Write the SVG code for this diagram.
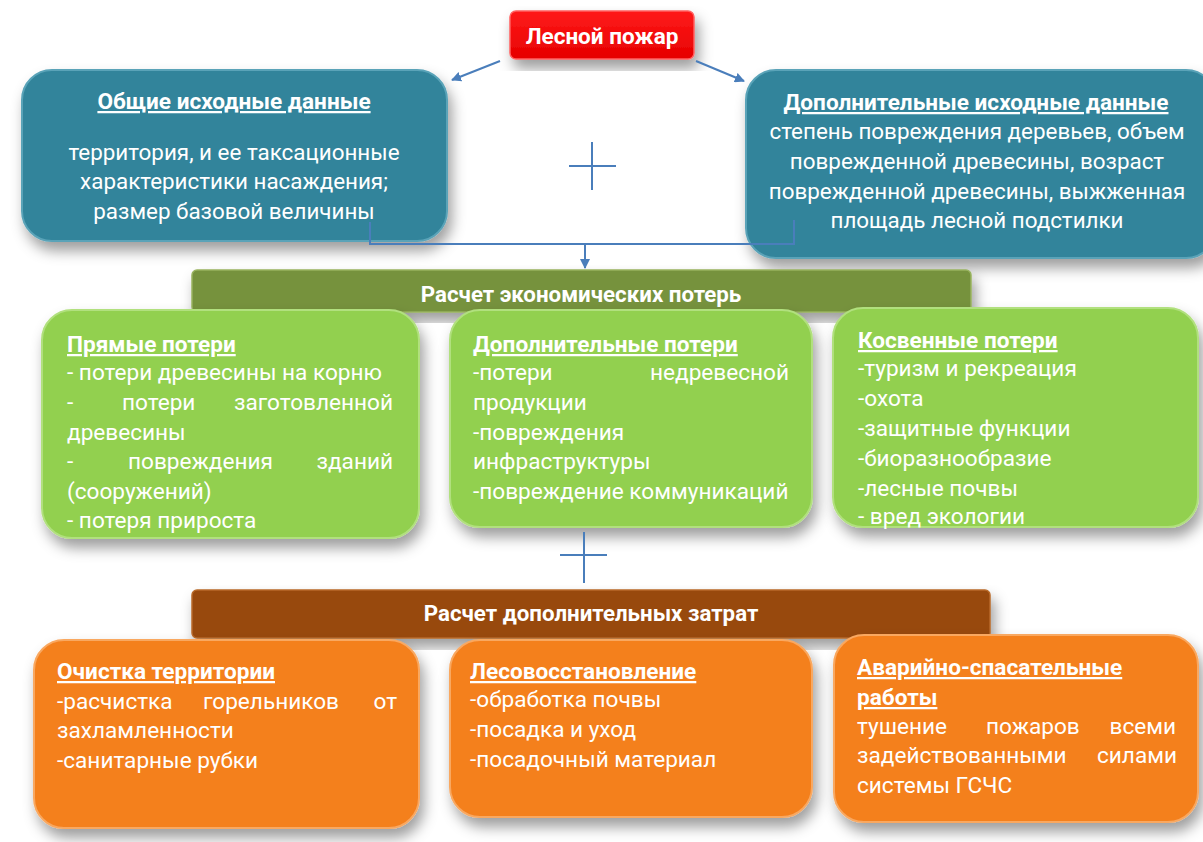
<svg xmlns="http://www.w3.org/2000/svg" width="1203" height="842" viewBox="0 0 1203 842">
<style>
text{font-family:Roboto,"Liberation Sans","Noto Sans",sans-serif;fill:#fff}
.t{font-size:22.6px;font-weight:bold;text-decoration:underline}
.r{font-size:22.6px}
.tt{font-size:22.4px}
.bar{font-size:22.3px;font-weight:bold}
.c{text-anchor:middle}
.e{text-anchor:end}
.teal{fill:#31849b;stroke:#5aa3b8;stroke-width:2}
.lg{fill:#92d050;stroke:#b1e07e;stroke-width:2}
.or{fill:#f4801f;stroke:#f9a860;stroke-width:2}
.conn{stroke:#4a7ebb;stroke-width:2;fill:none}
</style>
<defs>
<filter id="sh" x="-10%" y="-10%" width="125%" height="135%">
<feDropShadow dx="4" dy="9" stdDeviation="7" flood-color="#000" flood-opacity="0.38"/>
</filter>
<marker id="ah" viewBox="0 0 10 10" refX="9" refY="5" markerWidth="5" markerHeight="5" orient="auto-start-reverse">
<path d="M0,0 L10,5 L0,10 z" fill="#4a7ebb"/>
</marker>
<linearGradient id="red" x1="0" y1="0" x2="0" y2="1">
<stop offset="0" stop-color="#ff1a1a"/><stop offset="1" stop-color="#e60000"/>
</linearGradient>
</defs>
<rect width="1203" height="842" fill="#fff"/>

<g id="fire">
<rect x="510" y="11" width="184" height="48" rx="6" fill="url(#red)" stroke="#ff6060" stroke-width="1.5" filter="url(#sh)"/>
<text x="602" y="44" class="c" style="font-size:22.5px;font-weight:bold">Лесной пожар</text>
</g>

<g id="general">
<rect x="22" y="70" width="425" height="171" rx="30" class="teal" filter="url(#sh)"/>
<text x="234" y="109" class="t c">Общие исходные данные</text>
<text x="234" y="160" class="tt c">территория, и ее таксационные</text>
<text x="234" y="189" class="tt c">характеристики насаждения;</text>
<text x="234" y="219" class="tt c">размер базовой величины</text>
</g>

<g id="additional">
<rect x="746" y="70" width="470" height="188" rx="30" class="teal" filter="url(#sh)"/>
<text x="976" y="110" class="t c">Дополнительные исходные данные</text>
<text x="977" y="139" class="tt c">степень повреждения деревьев, объем</text>
<text x="977" y="169" class="tt c">поврежденной древесины, возраст</text>
<text x="977" y="199" class="tt c">поврежденной древесины, выжженная</text>
<text x="977" y="228" class="tt c">площадь лесной подстилки</text>
</g>

<g id="plus1">
<line x1="569" y1="166" x2="616" y2="166" class="conn"/>
<line x1="592" y1="142" x2="592" y2="190" class="conn"/>
</g>

<g id="econbar">
<rect x="192" y="270" width="779" height="42" rx="5" fill="#76923c" stroke="#98b35e" stroke-width="1.5" filter="url(#sh)"/>
<text x="581" y="302" class="bar c">Расчет экономических потерь</text>
</g>

<g id="direct">
<rect x="42" y="310" width="377" height="228" rx="30" class="lg" filter="url(#sh)"/>
<text x="67" y="352" class="t">Прямые потери</text>
<text x="67" y="380" class="r">- потери древесины на корню</text>
<text x="67" y="410" class="r">-</text>
<text x="122" y="410" class="r">потери</text>
<text x="393" y="410" class="r e">заготовленной</text>
<text x="67" y="440" class="r">древесины</text>
<text x="67" y="469" class="r">-</text>
<text x="128" y="469" class="r">повреждения</text>
<text x="393" y="469" class="r e">зданий</text>
<text x="67" y="499" class="r">(сооружений)</text>
<text x="67" y="528" class="r">- потеря прироста</text>
</g>

<g id="extra">
<rect x="450" y="310" width="362" height="217" rx="30" class="lg" filter="url(#sh)"/>
<text x="473" y="352" class="t">Дополнительные потери</text>
<text x="473" y="380" class="r">-потери</text>
<text x="789" y="380" class="r e">недревесной</text>
<text x="473" y="410" class="r">продукции</text>
<text x="473" y="440" class="r">-повреждения</text>
<text x="473" y="469" class="r">инфраструктуры</text>
<text x="473" y="499" class="r">-повреждение коммуникаций</text>
</g>

<g id="indirect">
<rect x="833" y="308" width="365" height="219" rx="30" class="lg" filter="url(#sh)"/>
<text x="858" y="348" class="t">Косвенные потери</text>
<text x="858" y="376" class="r">-туризм и рекреация</text>
<text x="858" y="406" class="r">-охота</text>
<text x="858" y="436" class="r">-защитные функции</text>
<text x="858" y="466" class="r">-биоразнообразие</text>
<text x="858" y="496" class="r">-лесные почвы</text>
<text x="858" y="524" class="r">- вред экологии</text>
</g>

<g id="plus2">
<line x1="560" y1="555" x2="607" y2="555" class="conn"/>
<line x1="584" y1="532" x2="584" y2="583" class="conn"/>
</g>

<g id="costbar">
<rect x="192" y="590" width="798" height="48" rx="5" fill="#984807" stroke="#b86a2a" stroke-width="1.5" filter="url(#sh)"/>
<text x="591" y="621" class="bar c">Расчет дополнительных затрат</text>
</g>

<g id="cleanup">
<rect x="34" y="640" width="385" height="188" rx="30" class="or" filter="url(#sh)"/>
<text x="57" y="679" class="t">Очистка территории</text>
<text x="57" y="709" class="r">-расчистка</text>
<text x="203" y="709" class="r">горельников</text>
<text x="397" y="709" class="r e">от</text>
<text x="57" y="738" class="r">захламленности</text>
<text x="57" y="768" class="r">-санитарные рубки</text>
</g>

<g id="reforest">
<rect x="450" y="640" width="362" height="177" rx="30" class="or" filter="url(#sh)"/>
<text x="470" y="679" class="t">Лесовосстановление</text>
<text x="470" y="707" class="r">-обработка почвы</text>
<text x="470" y="737" class="r">-посадка и уход</text>
<text x="470" y="767" class="r">-посадочный материал</text>
</g>

<g id="rescue">
<rect x="834" y="635" width="364" height="187" rx="30" class="or" filter="url(#sh)"/>
<text x="857" y="675" class="t">Аварийно-спасательные</text>
<text x="857" y="705" class="t">работы</text>
<text x="857" y="734" class="r">тушение</text>
<text x="986" y="734" class="r">пожаров</text>
<text x="1176" y="734" class="r e">всеми</text>
<text x="857" y="763" class="r">задействованными</text>
<text x="1177" y="763" class="r e">силами</text>
<text x="857" y="793" class="r">системы ГСЧС</text>
</g>

<g id="connectors">
<line x1="500" y1="61" x2="452" y2="80" class="conn" marker-end="url(#ah)"/>
<line x1="696" y1="61" x2="744" y2="81" class="conn" marker-end="url(#ah)"/>
<polyline points="370,222 370,244 794,244 794,220" class="conn"/>
<line x1="585" y1="244" x2="585" y2="268" class="conn" marker-end="url(#ah)"/>
</g>
</svg>
